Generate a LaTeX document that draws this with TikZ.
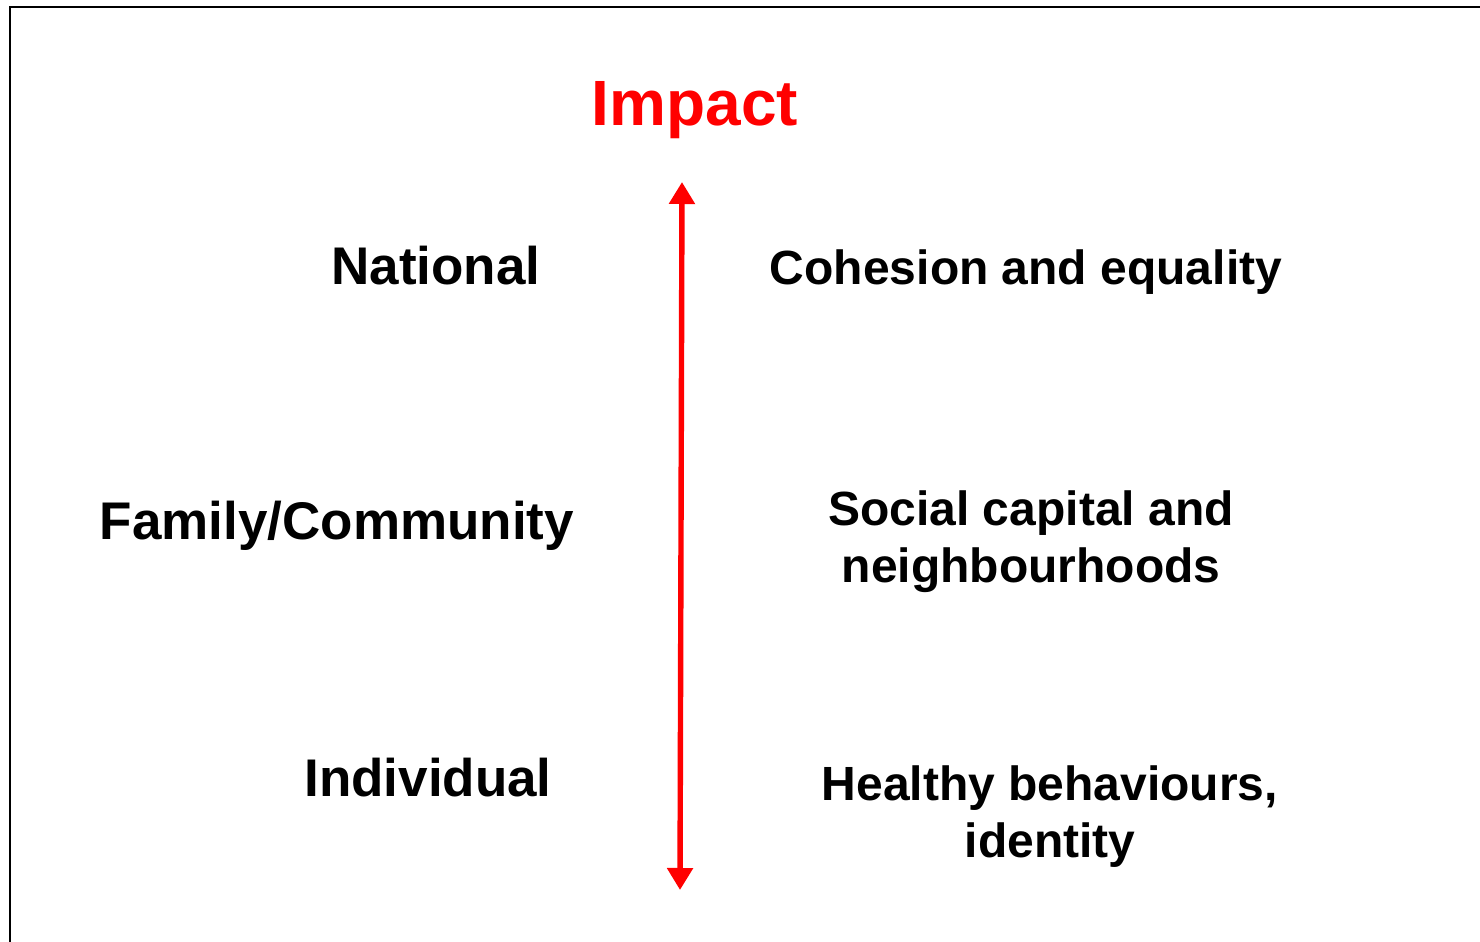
\documentclass[tikz,border=0pt]{standalone}
\usepackage{fontspec}
\setmainfont{Liberation Sans}
\usetikzlibrary{arrows.meta}
\begin{document}
\begin{tikzpicture}[x=0.5pt,y=-0.5pt,
  level/.style={font=\fontsize{26.5}{31}\selectfont\bfseries, anchor=base},
  effect/.style={font=\fontsize{24}{28.5}\selectfont\bfseries, anchor=base, align=center},
  axis/.style={red, line width=2.7pt, {Triangle[length=11pt,width=12.5pt]}-{Triangle[length=11pt,width=12.5pt]}}]
\useasboundingbox (0,0) rectangle (1480,942);
\draw[line width=1pt] (10,942) -- (10,7) -- (1480,7);

\node[font=\fontsize{32}{38}\selectfont\bfseries, text=red, anchor=base] (impact) at (695,125) {Impact};

\coordinate (top) at (682,182);
\coordinate (bottom) at (680,890);
\draw[axis] (bottom) -- (top);

\node[level] (national) at (436,284) {National};
\node[level] (family) at (337,539) {Family/Community};
\node[level] (individual) at (428,796) {Individual};

\node[effect] (cohesion) at (1026,284) {Cohesion and equality};
\node[effect, anchor=north] (social) at (1031,484) {Social capital and\\neighbourhoods};
\node[effect, anchor=north] (healthy) at (1050,759) {Healthy behaviours,\\identity};
\end{tikzpicture}
\end{document}
